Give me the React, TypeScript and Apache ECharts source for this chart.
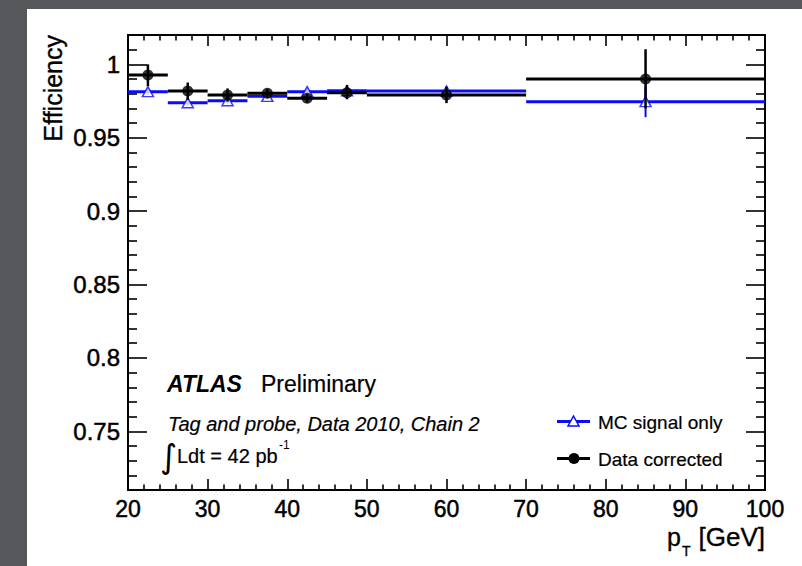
import React, { useEffect, useRef } from "react";
import * as echarts from "echarts";

// bins (pT in GeV)
const binLow = [20, 25, 30, 35, 40, 45, 50, 70];
const binHigh = [25, 30, 35, 40, 45, 50, 70, 100];
const binCenter = [22.5, 27.5, 32.5, 37.5, 42.5, 47.5, 60, 85];

// Data corrected
const dataEff = [0.9927, 0.9818, 0.9791, 0.9803, 0.9769, 0.9807, 0.9791, 0.99];
const dataErrUp = [0.0073, 0.0058, 0.0045, 0.003, 0.003, 0.0052, 0.0057, 0.0203];
const dataErrDown = [0.0075, 0.006, 0.0045, 0.003, 0.003, 0.0045, 0.0055, 0.02];

// MC signal only
const mcEff = [0.9814, 0.9739, 0.9752, 0.9782, 0.9814, 0.982, 0.9818, 0.9746];
const mcErrUp = [0.002, 0.002, 0.002, 0.002, 0.002, 0.002, 0.0015, 0.0105];
const mcErrDown = [0.002, 0.002, 0.002, 0.002, 0.002, 0.002, 0.0015, 0.0106];

// axis ticks
const xTicks = [20, 30, 40, 50, 60, 70, 80, 90, 100];
const yMajorTicks = [0.75, 0.8, 0.85, 0.9, 0.95, 1];
const yMinorTicks = [
  0.72, 0.73, 0.74, 0.76, 0.77, 0.78, 0.79, 0.81, 0.82, 0.83, 0.84, 0.86, 0.87,
  0.88, 0.89, 0.91, 0.92, 0.93, 0.94, 0.96, 0.97, 0.98, 0.99, 1.01,
];

const FONT = "'Liberation Sans', Arial, Helvetica, sans-serif";
const BLUE = "#0a0aff";
const HEAVY = { textBorderColor: "#000", textBorderWidth: 0.5 };
const MEDIUM = { stroke: "#000", lineWidth: 0.35 };

function errItem(color: string, hw: number, vw: number) {
  return (params: any, api: any) => {
    const xc = api.value(0);
    const y = api.value(1);
    const xl = api.value(2);
    const xh = api.value(3);
    const el = api.value(4);
    const eh = api.value(5);
    const pL = api.coord([xl, y]);
    const pH = api.coord([xh, y]);
    const pT = api.coord([xc, y + eh]);
    const pB = api.coord([xc, y - el]);
    return {
      type: "group",
      children: [
        { type: "line", shape: { x1: pL[0], y1: pL[1], x2: pH[0], y2: pH[1] }, style: { stroke: color, lineWidth: hw } },
        { type: "line", shape: { x1: pT[0], y1: pT[1], x2: pB[0], y2: pB[1] }, style: { stroke: color, lineWidth: vw } },
      ],
    };
  };
}

export default function App() {
  const ref = useRef<HTMLDivElement>(null);
  useEffect(() => {
    if (!ref.current) return;
    const chart = echarts.init(ref.current, null, { renderer: "svg" });

    const axisLine = { show: true, lineStyle: { color: "#000", width: 2 } };
    const xAxisBase = (pos: string, labels: boolean) => ({
      type: "value",
      position: pos,
      min: 20,
      max: 100,
      interval: 10,
      axisLine,
      axisTick: { show: true, inside: true, length: 11, lineStyle: { color: "#000", width: 1.6 } },
      minorTick: { show: true, splitNumber: 5, length: 5.5, lineStyle: { color: "#000", width: 1.6 } },
      axisLabel: {
        show: labels,
        fontSize: 23,
        lineHeight: 18,
        color: "#000",
        fontFamily: FONT,
        margin: 10,
        showMinLabel: true,
        showMaxLabel: true,
        customValues: xTicks,
        ...HEAVY,
      },
      splitLine: { show: false },
    });
    const yAxisBase = (pos: string, ticks: number[], len: number, labels: boolean) => ({
      type: "value",
      position: pos,
      min: 0.71,
      max: 1.02,
      axisLine,
      axisTick: { show: true, inside: true, length: len, customValues: ticks, lineStyle: { color: "#000", width: 1.6 } },
      axisLabel: {
        show: labels,
        customValues: ticks,
        fontSize: 24,
        lineHeight: 18,
        color: "#000",
        fontFamily: FONT,
        margin: 8,
        formatter: (v: number) => String(parseFloat(v.toFixed(2))),
        ...HEAVY,
      },
      splitLine: { show: false },
    });

    const mcErrData = binCenter.map((x, i) => [x, mcEff[i], binLow[i], binHigh[i], mcErrDown[i], mcErrUp[i]]);
    const dataErrData = binCenter.map((x, i) => [x, dataEff[i], binLow[i], binHigh[i], dataErrDown[i], dataErrUp[i]]);

    chart.setOption({
      animation: false,
      backgroundColor: "transparent",
      grid: { left: 128, right: 37, top: 35, bottom: 76, containLabel: false },
      xAxis: [xAxisBase("bottom", true), xAxisBase("top", false)],
      yAxis: [
        yAxisBase("left", yMajorTicks, 19, true),
        yAxisBase("left", yMinorTicks, 9, false),
        yAxisBase("right", yMajorTicks, 19, false),
        yAxisBase("right", yMinorTicks, 9, false),
      ],
      series: [
        {
          type: "custom",
          name: "MC signal only",
          renderItem: errItem(BLUE, 3, 2),
          data: mcErrData,
          encode: { x: 0, y: 1 },
          xAxisIndex: 0,
          yAxisIndex: 0,
          z: 2,
        },
        {
          type: "scatter",
          name: "MC signal only",
          data: binCenter.map((x, i) => [x, mcEff[i]]),
          symbol: "triangle",
          symbolSize: [11, 10],
          itemStyle: { color: "#ffffff", borderColor: BLUE, borderWidth: 1.5 },
          xAxisIndex: 0,
          yAxisIndex: 0,
          z: 3,
        },
        {
          type: "custom",
          name: "Data corrected",
          renderItem: errItem("#000", 3, 2.5),
          data: dataErrData,
          encode: { x: 0, y: 1 },
          xAxisIndex: 0,
          yAxisIndex: 0,
          z: 4,
        },
        {
          type: "scatter",
          name: "Data corrected",
          data: binCenter.map((x, i) => [x, dataEff[i]]),
          symbol: "circle",
          symbolSize: 11,
          itemStyle: { color: "#000" },
          xAxisIndex: 0,
          yAxisIndex: 0,
          z: 5,
        },
      ],
      graphic: [
        {
          type: "text",
          x: 53,
          y: 35,
          rotation: Math.PI / 2,
          style: { text: "Efficiency", fontSize: 25, fontFamily: FONT, fill: "#000", align: "right", verticalAlign: "middle", ...MEDIUM },
        },
        { type: "text", x: 667, y: 537, style: { text: "p", fontSize: 25, lineHeight: 20, fontFamily: FONT, fill: "#000", align: "left", verticalAlign: "middle", ...MEDIUM } },
        { type: "text", x: 682, y: 551, style: { text: "T", fontSize: 14, lineHeight: 10, fontFamily: FONT, fill: "#000", align: "left", verticalAlign: "middle", ...MEDIUM } },
        { type: "text", x: 765, y: 537, style: { text: "[GeV]", fontSize: 26, lineHeight: 20, fontFamily: FONT, fill: "#000", align: "right", verticalAlign: "middle", ...MEDIUM } },
        { type: "text", x: 167, y: 384, style: { text: "ATLAS", fontSize: 23, fontWeight: "bold", fontStyle: "italic", fontFamily: FONT, fill: "#000", verticalAlign: "middle" } },
        { type: "text", x: 261, y: 384, style: { text: "Preliminary", fontSize: 23, fontFamily: FONT, fill: "#000", verticalAlign: "middle", stroke: "#000", lineWidth: 0.2 } },
        { type: "text", x: 168, y: 424, style: { text: "Tag and probe, Data 2010, Chain 2", fontSize: 20, fontStyle: "italic", fontFamily: FONT, fill: "#000", verticalAlign: "middle", stroke: "#000", lineWidth: 0.2 } },
        { type: "text", x: 160, y: 456, style: { text: "∫", fontSize: 33, fontFamily: "'DejaVu Sans', sans-serif", fill: "#000", verticalAlign: "middle" } },
        { type: "text", x: 177, y: 455.5, style: { text: "Ldt = 42 pb", fontSize: 20, fontFamily: FONT, fill: "#000", verticalAlign: "middle", stroke: "#000", lineWidth: 0.2 } },
        { type: "text", x: 279, y: 445, style: { text: "-1", fontSize: 12, fontFamily: FONT, fill: "#000", verticalAlign: "middle" } },
        // legend
        { type: "line", shape: { x1: 557, y1: 421.5, x2: 590, y2: 421.5 }, style: { stroke: BLUE, lineWidth: 3 } },
        { type: "polygon", shape: { points: [[573.5, 416], [579, 426], [568, 426]] }, style: { fill: "#fff", stroke: BLUE, lineWidth: 1.5 } },
        { type: "text", x: 598, y: 422.5, style: { text: "MC signal only", fontSize: 19, fontFamily: FONT, fill: "#000", verticalAlign: "middle", stroke: "#000", lineWidth: 0.2 } },
        { type: "line", shape: { x1: 557, y1: 458.5, x2: 590, y2: 458.5 }, style: { stroke: "#000", lineWidth: 3 } },
        { type: "circle", shape: { cx: 574, cy: 458.5, r: 5.5 }, style: { fill: "#000" } },
        { type: "text", x: 598, y: 459, style: { text: "Data corrected", fontSize: 19, fontFamily: FONT, fill: "#000", verticalAlign: "middle", stroke: "#000", lineWidth: 0.2 } },
      ],
    });
    return () => chart.dispose();
  }, []);

  return (
    <div style={{ position: "fixed", left: 0, top: 0, width: 802, height: 566, background: "#55575b", overflow: "hidden" }}>
      <div style={{ position: "absolute", left: 27, top: 9, width: 775, height: 557, background: "#ffffff" }} />
      <div ref={ref} style={{ position: "absolute", left: 0, top: 0, width: 802, height: 566 }} />
    </div>
  );
}
